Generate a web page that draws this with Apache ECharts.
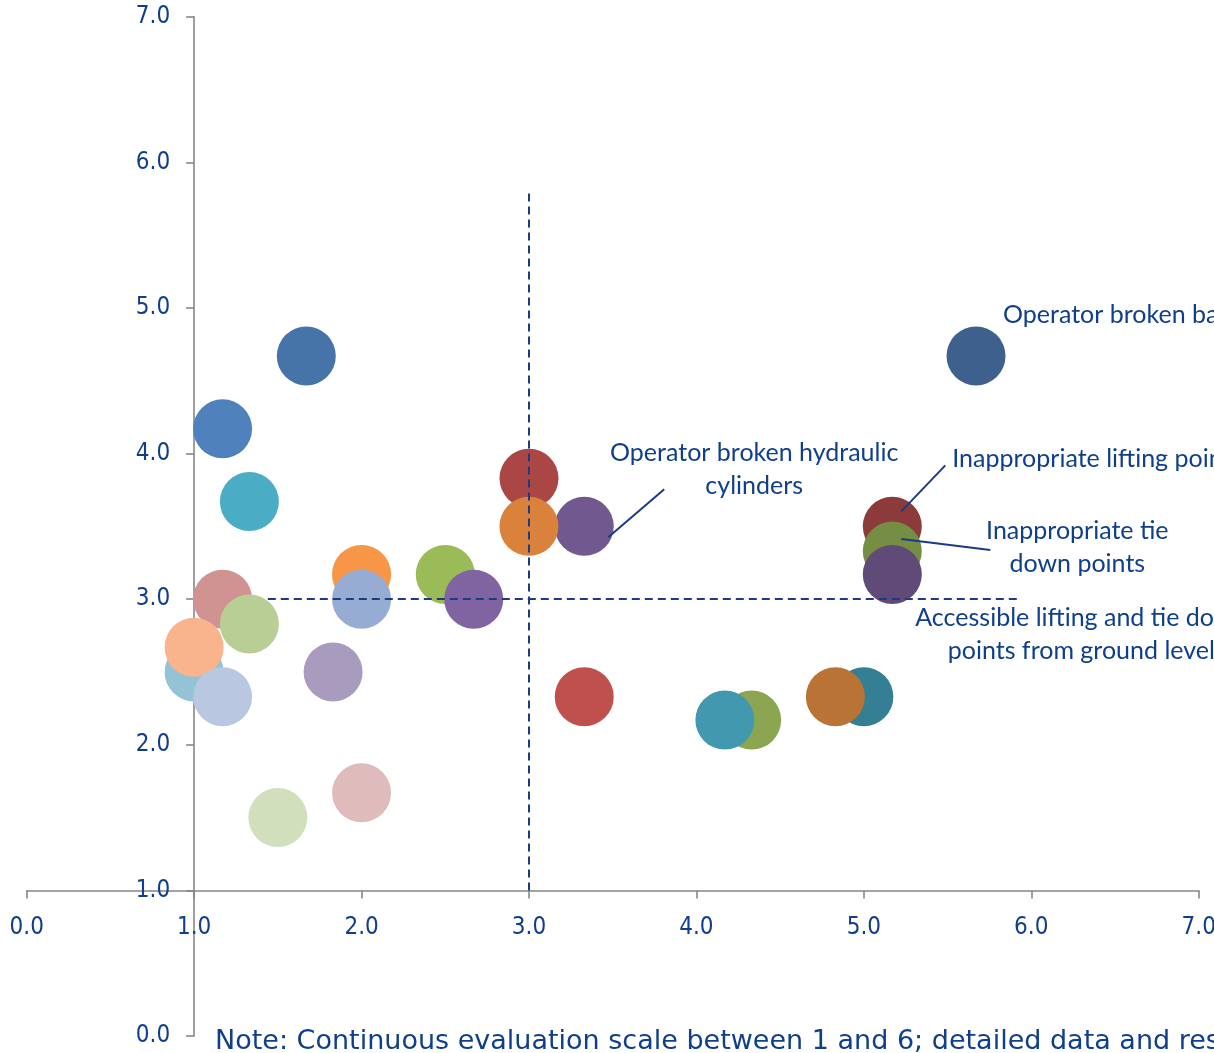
<!DOCTYPE html>
<html>
<head>
<meta charset="utf-8">
<script src="https://cdn.jsdelivr.net/npm/echarts@6/dist/echarts.min.js"></script>
<style>
  html, body { margin: 0; padding: 0; background: #ffffff; }
  #chart { width: 1214px; height: 1053px; }
</style>
</head>
<body>
<div id="chart"></div>
<script>
// Scores for each hazard: x = first criterion, y = second criterion (averaged ratings)
const xScores = [1.67, 1.17, 1.33, 1.17, 1.33, 1.00, 1.00, 1.17, 1.50, 2.00, 1.83, 2.00, 2.00, 2.50, 2.67,
                 3.00, 3.33, 3.00, 3.33, 4.33, 4.17, 5.00, 4.83, 5.67, 5.17, 5.17, 5.17];
const yScores = [4.67, 4.17, 3.67, 3.00, 2.83, 2.50, 2.67, 2.33, 1.50, 1.67, 2.50, 3.17, 3.00, 3.17, 3.00,
                 3.83, 3.50, 3.50, 2.33, 2.17, 2.17, 2.33, 2.33, 4.67, 3.50, 3.33, 3.17];
const bubbleColors = ['#4674A8', '#4F81BD', '#4BACC6', '#D19392', '#B9CE95', '#93C3D5', '#F9B48E', '#B9C7E0',
                      '#D1DFBC', '#E0BBBB', '#A99BBD', '#F79646', '#97ACD2', '#9BBB59', '#8064A2',
                      '#AA4644', '#71588F', '#DA813C', '#C0504D', '#8BA550', '#4298AE', '#357F94', '#B97334',
                      '#3D608C', '#8D3B3A', '#758E43', '#5F4A78'];

// Axis ticks (both axes share the same 0–7 scale)
const tickValues = [0, 1, 2, 3, 4, 5, 6, 7];

// Quadrant dividers
const dividerX = 3.0, dividerXSpan = [1.0, 5.8];
const dividerY = 3.0, dividerYSpan = [1.44, 5.92];

// Callout texts, attached to a bubble index
const calloutPoint = [23, 16, 24, 25, 26];
const calloutText = [
  'Operator broken back',
  'Operator broken hydraulic\ncylinders',
  'Inappropriate lifting points',
  'Inappropriate tie\ndown points',
  'Accessible lifting and tie down\npoints from ground level'
];
// Callout layout in pixels relative to the bubble centre
const calloutLayout = [
  { dx: 27, dy: -41, align: 'left', leader: null },
  { dx: 170, dy: -56.5, align: 'center', leader: [24, 11, 80, -37] },
  { dx: 60, dy: -67, align: 'left', leader: [9, -15, 53, -61] },
  { dx: 185, dy: -3.5, align: 'center', leader: [9, -12, 98, -1] },
  { dx: 189, dy: 60, align: 'center', leader: null }
];

const noteText = 'Note: Continuous evaluation scale between 1 and 6; detailed data and results in the annex';

const TEXT_BLUE = '#0F3F8C';
const LINE_BLUE = '#1A3C86';
const AXIS_GREY = '#878787';
const TICK_FONT = "'DejaVu Sans Condensed', 'DejaVu Sans', sans-serif";
const NOTE_FONT = "'DejaVu Sans', sans-serif";
const CALLOUT_FONT = "Lato, 'Open Sans', sans-serif";

const chart = echarts.init(document.getElementById('chart'), null, { renderer: 'canvas' });

function axisCommon() {
  return {
    type: 'value',
    min: tickValues[0],
    max: tickValues[tickValues.length - 1],
    interval: 1,
    splitLine: { show: false },
    axisLine: { show: true, onZero: false, lineStyle: { color: AXIS_GREY, width: 1.6 } },
    axisTick: { show: true, inside: false, length: 8, lineStyle: { color: AXIS_GREY, width: 1.6 } },
    axisLabel: {
      color: TEXT_BLUE,
      fontFamily: TICK_FONT,
      fontSize: 24,
      formatter: v => v.toFixed(1)
    }
  };
}

const xAxis = Object.assign(axisCommon(), { position: 'bottom' });
xAxis.axisLabel.margin = 25;
const yAxis = Object.assign(axisCommon(), { position: 'left' });
yAxis.axisLabel.margin = 24;

const dividerStyle = { color: LINE_BLUE, width: 2, type: [8, 5] };

chart.setOption({
  animation: false,
  grid: { left: 26.7, right: 15.3, top: 16.7, bottom: 17, containLabel: false, outerBoundsMode: 'none' },
  xAxis: xAxis,
  yAxis: yAxis,
  series: [
    {
      type: 'scatter',
      data: [],
      z: 1,
      markLine: {
        silent: true,
        symbol: 'none',
        label: { show: false },
        lineStyle: dividerStyle,
        data: [
          [{ coord: [dividerX, dividerXSpan[0]] }, { coord: [dividerX, dividerXSpan[1]] }],
          [{ coord: [dividerYSpan[0], dividerY] }, { coord: [dividerYSpan[1], dividerY] }]
        ]
      }
    },
    {
      type: 'scatter',
      z: 2,
      symbol: 'circle',
      symbolSize: 59,
      data: xScores.map((x, i) => ({
        value: [x, yScores[i]],
        itemStyle: { color: bubbleColors[i], opacity: 1 }
      }))
    }
  ]
});

// Place the axes so that they cross at (1, 1)
const p00 = chart.convertToPixel({ gridIndex: 0 }, [0, 0]);
const p11 = chart.convertToPixel({ gridIndex: 0 }, [1, 1]);
const unitX = p11[0] - p00[0];
const unitY = p00[1] - p11[1];

const graphics = [];
calloutPoint.forEach((idx, k) => {
  const c = chart.convertToPixel({ gridIndex: 0 }, [xScores[idx], yScores[idx]]);
  const lay = calloutLayout[k];
  if (lay.leader) {
    graphics.push({
      type: 'line',
      z: 10,
      shape: { x1: c[0] + lay.leader[0], y1: c[1] + lay.leader[1], x2: c[0] + lay.leader[2], y2: c[1] + lay.leader[3] },
      style: { stroke: LINE_BLUE, lineWidth: 2 }
    });
  }
  graphics.push({
    type: 'text',
    z: 10,
    x: c[0] + lay.dx,
    y: c[1] + lay.dy,
    style: {
      text: calloutText[k],
      fill: TEXT_BLUE,
      font: '25px ' + CALLOUT_FONT,
      lineHeight: 33,
      align: lay.align,
      verticalAlign: 'middle'
    }
  });
});

graphics.push({
  type: 'text',
  z: 10,
  x: 215,
  y: 1042,
  style: {
    text: noteText,
    fill: TEXT_BLUE,
    font: '27px ' + NOTE_FONT,
    align: 'left',
    verticalAlign: 'middle'
  }
});

chart.setOption({
  xAxis: { offset: -unitY },
  yAxis: { offset: -unitX },
  graphic: graphics
});
</script>
</body>
</html>
